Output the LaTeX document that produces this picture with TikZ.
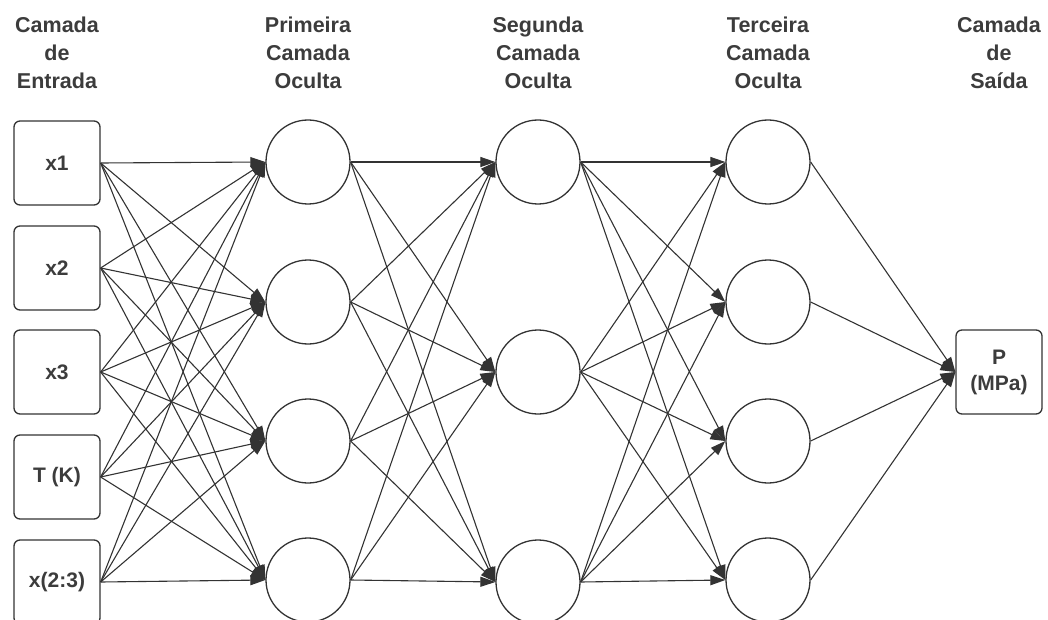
\documentclass[tikz,border=0pt]{standalone}
\usepackage{fontspec}
\setmainfont{Liberation Sans}
\usetikzlibrary{arrows.meta}
\definecolor{ink}{HTML}{333333}
\definecolor{txt}{HTML}{3C3C3C}
\begin{document}
\begin{tikzpicture}[x=1pt,y=-1pt,
  box/.style={draw=ink,line width=1.3pt,rounded corners=6pt,minimum width=86pt,minimum height=84pt,inner sep=0pt,font=\fontsize{21}{26}\selectfont\bfseries,text=txt,align=center},
  neuron/.style={draw=ink,line width=1.3pt,circle,minimum size=84pt,inner sep=0pt},
  head/.style={font=\fontsize{21.5}{28}\selectfont\bfseries,text=txt,align=center},
  conn/.style={draw=ink,line width=1.1pt,-{Triangle[length=15pt,width=10pt]}}]
\useasboundingbox (0,0) rectangle (1048,620);
% headers
\node[head] (h0) at (57,53) {Camada\\de\\Entrada};
\node[head] (h1) at (308,53) {Primeira\\Camada\\Oculta};
\node[head] (h2) at (538,53) {Segunda\\Camada\\Oculta};
\node[head] (h3) at (768,53) {Terceira\\Camada\\Oculta};
\node[head] (h4) at (999,53) {Camada\\de\\Saída};
% input boxes
\node[box] (i1) at (57,163) {x1};
\node[box] (i2) at (57,268) {x2};
\node[box] (i3) at (57,372) {x3};
\node[box] (i4) at (57,477) {T (K)};
\node[box] (i5) at (57,582) {x(2:3)};
% layer 1
\foreach \k/\y in {1/162,2/302,3/441,4/580} \node[neuron] (a\k) at (308,\y) {};
% layer 2
\foreach \k/\y in {1/162,2/372,3/582} \node[neuron] (b\k) at (538,\y) {};
% layer 3
\foreach \k/\y in {1/162,2/302,3/441,4/580} \node[neuron] (c\k) at (768,\y) {};
% output
\node[box] (o) at (999,372) {P\\(MPa)};
% connections
\foreach \i in {1,...,5} \foreach \j in {1,...,4} \draw[conn] (i\i.east) -- (a\j.west);
\foreach \i in {1,...,4} \foreach \j in {1,...,3} \draw[conn] (a\i.east) -- (b\j.west);
\foreach \i in {1,...,3} \foreach \j in {1,...,4} \draw[conn] (b\i.east) -- (c\j.west);
\foreach \i in {1,...,4} \draw[conn] (c\i.east) -- (o.west);
\end{tikzpicture}
\end{document}
